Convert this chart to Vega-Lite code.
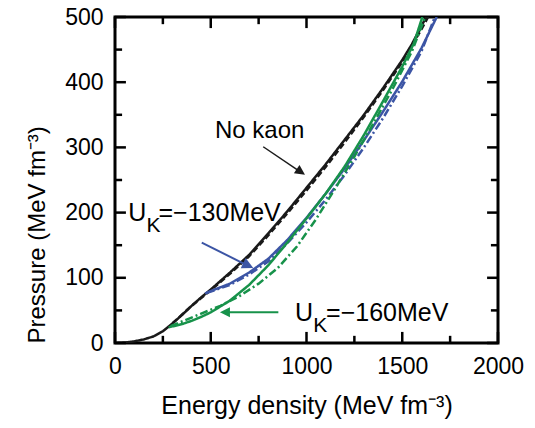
{
  "$schema": "https://vega.github.io/schema/vega-lite/v6.json",
  "width": 383,
  "height": 326,
  "autosize": {"type": "none"},
  "padding": {"left": 115, "top": 17, "right": 37, "bottom": 85},
  "background": "white",
  "config": {
    "view": {"stroke": "black", "strokeWidth": 3},
    "font": "Liberation Sans"
  },
  "datasets": {
    "curves": [
      {"series": "No kaon", "e": 0, "p": 0},
      {"series": "No kaon", "e": 50, "p": 0.7},
      {"series": "No kaon", "e": 100, "p": 2.5},
      {"series": "No kaon", "e": 150, "p": 5.5},
      {"series": "No kaon", "e": 200, "p": 10},
      {"series": "No kaon", "e": 250, "p": 18},
      {"series": "No kaon", "e": 300, "p": 30},
      {"series": "No kaon", "e": 350, "p": 43},
      {"series": "No kaon", "e": 400, "p": 57},
      {"series": "No kaon", "e": 450, "p": 70},
      {"series": "No kaon", "e": 500, "p": 82},
      {"series": "No kaon", "e": 600, "p": 108},
      {"series": "No kaon", "e": 700, "p": 135},
      {"series": "No kaon", "e": 800, "p": 168},
      {"series": "No kaon", "e": 900, "p": 202},
      {"series": "No kaon", "e": 1000, "p": 238},
      {"series": "No kaon", "e": 1100, "p": 274},
      {"series": "No kaon", "e": 1200, "p": 312},
      {"series": "No kaon", "e": 1300, "p": 350},
      {"series": "No kaon", "e": 1400, "p": 391},
      {"series": "No kaon", "e": 1500, "p": 434},
      {"series": "No kaon", "e": 1550, "p": 458},
      {"series": "No kaon", "e": 1600, "p": 486},
      {"series": "No kaon", "e": 1625, "p": 500},
      {"series": "No kaon (dashed)", "e": 300, "p": 30},
      {"series": "No kaon (dashed)", "e": 400, "p": 57},
      {"series": "No kaon (dashed)", "e": 500, "p": 81},
      {"series": "No kaon (dashed)", "e": 600, "p": 106},
      {"series": "No kaon (dashed)", "e": 700, "p": 133},
      {"series": "No kaon (dashed)", "e": 800, "p": 165},
      {"series": "No kaon (dashed)", "e": 900, "p": 199},
      {"series": "No kaon (dashed)", "e": 1000, "p": 234},
      {"series": "No kaon (dashed)", "e": 1100, "p": 270},
      {"series": "No kaon (dashed)", "e": 1200, "p": 308},
      {"series": "No kaon (dashed)", "e": 1300, "p": 347},
      {"series": "No kaon (dashed)", "e": 1400, "p": 388},
      {"series": "No kaon (dashed)", "e": 1500, "p": 431},
      {"series": "No kaon (dashed)", "e": 1600, "p": 481},
      {"series": "No kaon (dashed)", "e": 1635, "p": 500},
      {"series": "UK=-130MeV", "e": 470, "p": 76},
      {"series": "UK=-130MeV", "e": 520, "p": 82},
      {"series": "UK=-130MeV", "e": 600, "p": 91},
      {"series": "UK=-130MeV", "e": 700, "p": 108},
      {"series": "UK=-130MeV", "e": 800, "p": 129},
      {"series": "UK=-130MeV", "e": 900, "p": 158},
      {"series": "UK=-130MeV", "e": 1000, "p": 192},
      {"series": "UK=-130MeV", "e": 1100, "p": 229},
      {"series": "UK=-130MeV", "e": 1200, "p": 268},
      {"series": "UK=-130MeV", "e": 1300, "p": 311},
      {"series": "UK=-130MeV", "e": 1400, "p": 355},
      {"series": "UK=-130MeV", "e": 1500, "p": 401},
      {"series": "UK=-130MeV", "e": 1600, "p": 452},
      {"series": "UK=-130MeV", "e": 1680, "p": 500},
      {"series": "UK=-130MeV (dash-dot)", "e": 480, "p": 77},
      {"series": "UK=-130MeV (dash-dot)", "e": 600, "p": 89},
      {"series": "UK=-130MeV (dash-dot)", "e": 700, "p": 105},
      {"series": "UK=-130MeV (dash-dot)", "e": 800, "p": 125},
      {"series": "UK=-130MeV (dash-dot)", "e": 900, "p": 153},
      {"series": "UK=-130MeV (dash-dot)", "e": 1000, "p": 185},
      {"series": "UK=-130MeV (dash-dot)", "e": 1100, "p": 220},
      {"series": "UK=-130MeV (dash-dot)", "e": 1200, "p": 258},
      {"series": "UK=-130MeV (dash-dot)", "e": 1300, "p": 300},
      {"series": "UK=-130MeV (dash-dot)", "e": 1400, "p": 345},
      {"series": "UK=-130MeV (dash-dot)", "e": 1500, "p": 394},
      {"series": "UK=-130MeV (dash-dot)", "e": 1600, "p": 447},
      {"series": "UK=-130MeV (dash-dot)", "e": 1670, "p": 500},
      {"series": "UK=-160MeV", "e": 280, "p": 24},
      {"series": "UK=-160MeV", "e": 350, "p": 29},
      {"series": "UK=-160MeV", "e": 400, "p": 34},
      {"series": "UK=-160MeV", "e": 450, "p": 40},
      {"series": "UK=-160MeV", "e": 500, "p": 47},
      {"series": "UK=-160MeV", "e": 600, "p": 65},
      {"series": "UK=-160MeV", "e": 700, "p": 89},
      {"series": "UK=-160MeV", "e": 800, "p": 119},
      {"series": "UK=-160MeV", "e": 900, "p": 154},
      {"series": "UK=-160MeV", "e": 1000, "p": 191},
      {"series": "UK=-160MeV", "e": 1100, "p": 229},
      {"series": "UK=-160MeV", "e": 1200, "p": 271},
      {"series": "UK=-160MeV", "e": 1300, "p": 319},
      {"series": "UK=-160MeV", "e": 1400, "p": 371},
      {"series": "UK=-160MeV", "e": 1500, "p": 424},
      {"series": "UK=-160MeV", "e": 1560, "p": 459},
      {"series": "UK=-160MeV", "e": 1605, "p": 500},
      {"series": "UK=-160MeV (dash-dot)", "e": 290, "p": 26},
      {"series": "UK=-160MeV (dash-dot)", "e": 350, "p": 33},
      {"series": "UK=-160MeV (dash-dot)", "e": 450, "p": 45},
      {"series": "UK=-160MeV (dash-dot)", "e": 550, "p": 57},
      {"series": "UK=-160MeV (dash-dot)", "e": 650, "p": 72},
      {"series": "UK=-160MeV (dash-dot)", "e": 750, "p": 91},
      {"series": "UK=-160MeV (dash-dot)", "e": 850, "p": 115},
      {"series": "UK=-160MeV (dash-dot)", "e": 950, "p": 148},
      {"series": "UK=-160MeV (dash-dot)", "e": 1050, "p": 190},
      {"series": "UK=-160MeV (dash-dot)", "e": 1150, "p": 237},
      {"series": "UK=-160MeV (dash-dot)", "e": 1250, "p": 286},
      {"series": "UK=-160MeV (dash-dot)", "e": 1350, "p": 337},
      {"series": "UK=-160MeV (dash-dot)", "e": 1450, "p": 390},
      {"series": "UK=-160MeV (dash-dot)", "e": 1550, "p": 447},
      {"series": "UK=-160MeV (dash-dot)", "e": 1620, "p": 500}
    ]
  },
  "layer": [
    {
      "data": {"name": "curves"},
      "mark": {"type": "line", "clip": true, "strokeWidth": 2.5},
      "encoding": {
        "x": {
          "field": "e", "type": "quantitative",
          "scale": {"domain": [0, 2000], "nice": false, "zero": false},
          "axis": {
            "orient": "bottom",
            "values": [0, 500, 1000, 1500, 2000],
            "format": "d",
            "ticks": false, "tickSize": 0,
            "domain": false, "grid": false,
            "labelFontSize": 23, "labelColor": "black", "labelFont": "Liberation Sans",
            "labelPadding": 12, "labelFlush": false, "labelOverlap": false,
            "title": "Energy density (MeV fm⁻³)",
            "titleFontSize": 25, "titleFontWeight": "normal", "titleColor": "black",
            "titleFont": "Liberation Sans", "titlePadding": 15
          }
        },
        "y": {
          "field": "p", "type": "quantitative",
          "scale": {"domain": [0, 500], "nice": false},
          "axis": {
            "orient": "left",
            "values": [0, 100, 200, 300, 400, 500],
            "format": "d",
            "ticks": false, "tickSize": 0,
            "domain": false, "grid": false,
            "labelFontSize": 23, "labelColor": "black", "labelFont": "Liberation Sans",
            "labelPadding": 12, "labelFlush": false, "labelOverlap": false,
            "title": "Pressure (MeV fm⁻³)",
            "titleFontSize": 24, "titleFontWeight": "normal", "titleColor": "black",
            "titleFont": "Liberation Sans", "titlePadding": 15, "titleAnchor": "start"
          }
        },
        "color": {
          "field": "series", "type": "nominal", "legend": null,
          "scale": {
            "domain": ["UK=-130MeV", "UK=-130MeV (dash-dot)", "UK=-160MeV", "UK=-160MeV (dash-dot)", "No kaon (dashed)", "No kaon"],
            "range": ["#3c55a5", "#3c55a5", "#17924a", "#17924a", "#1a1a1a", "#1a1a1a"]
          }
        },
        "strokeDash": {
          "field": "series", "type": "nominal", "legend": null,
          "scale": {
            "domain": ["UK=-130MeV", "UK=-130MeV (dash-dot)", "UK=-160MeV", "UK=-160MeV (dash-dot)", "No kaon (dashed)", "No kaon"],
            "range": [[1, 0], [8, 3, 2, 3], [1, 0], [8, 3, 2, 3], [6, 3], [1, 0]]
          }
        }
      }
    },
    {
      "data": {"values": [{"v": 0}, {"v": 500}, {"v": 1000}, {"v": 1500}, {"v": 2000}]},
      "mark": {"type": "rule", "color": "black", "strokeWidth": 2.5},
      "encoding": {"x": {"field": "v", "type": "quantitative"}, "y": {"datum": 0, "type": "quantitative"}, "y2": {"datum": 17}}
    },
    {
      "data": {"values": [{"v": 250}, {"v": 750}, {"v": 1250}, {"v": 1750}]},
      "mark": {"type": "rule", "color": "black", "strokeWidth": 2.5},
      "encoding": {"x": {"field": "v", "type": "quantitative"}, "y": {"datum": 0, "type": "quantitative"}, "y2": {"datum": 11}}
    },
    {
      "data": {"values": [{"v": 0}, {"v": 500}, {"v": 1000}, {"v": 1500}, {"v": 2000}]},
      "mark": {"type": "rule", "color": "black", "strokeWidth": 2.5},
      "encoding": {"x": {"field": "v", "type": "quantitative"}, "y": {"datum": 500, "type": "quantitative"}, "y2": {"datum": 483}}
    },
    {
      "data": {"values": [{"v": 250}, {"v": 750}, {"v": 1250}, {"v": 1750}]},
      "mark": {"type": "rule", "color": "black", "strokeWidth": 2.5},
      "encoding": {"x": {"field": "v", "type": "quantitative"}, "y": {"datum": 500, "type": "quantitative"}, "y2": {"datum": 489}}
    },
    {
      "data": {"values": [{"v": 0}, {"v": 100}, {"v": 200}, {"v": 300}, {"v": 400}, {"v": 500}]},
      "mark": {"type": "rule", "color": "black", "strokeWidth": 2.5},
      "encoding": {"y": {"field": "v", "type": "quantitative"}, "x": {"datum": 0, "type": "quantitative"}, "x2": {"datum": 57}}
    },
    {
      "data": {"values": [{"v": 50}, {"v": 150}, {"v": 250}, {"v": 350}, {"v": 450}]},
      "mark": {"type": "rule", "color": "black", "strokeWidth": 2.5},
      "encoding": {"y": {"field": "v", "type": "quantitative"}, "x": {"datum": 0, "type": "quantitative"}, "x2": {"datum": 37}}
    },
    {
      "data": {"values": [{"v": 0}, {"v": 100}, {"v": 200}, {"v": 300}, {"v": 400}, {"v": 500}]},
      "mark": {"type": "rule", "color": "black", "strokeWidth": 2.5},
      "encoding": {"y": {"field": "v", "type": "quantitative"}, "x": {"datum": 2000, "type": "quantitative"}, "x2": {"datum": 1943}}
    },
    {
      "data": {"values": [{"v": 50}, {"v": 150}, {"v": 250}, {"v": 350}, {"v": 450}]},
      "mark": {"type": "rule", "color": "black", "strokeWidth": 2.5},
      "encoding": {"y": {"field": "v", "type": "quantitative"}, "x": {"datum": 2000, "type": "quantitative"}, "x2": {"datum": 1963}}
    },
    {
      "data": {"values": [{}]},
      "mark": {"type": "text", "text": "No kaon", "align": "left", "baseline": "alphabetic", "fontSize": 24, "font": "Liberation Sans", "color": "black"},
      "encoding": {"x": {"datum": 522, "type": "quantitative"}, "y": {"datum": 315, "type": "quantitative"}}
    },
    {
      "data": {"values": [{}]},
      "mark": {"type": "text", "text": "U", "align": "left", "baseline": "alphabetic", "fontSize": 25, "font": "Liberation Sans", "color": "black"},
      "encoding": {"x": {"datum": 69, "type": "quantitative"}, "y": {"datum": 187.6, "type": "quantitative"}}
    },
    {
      "data": {"values": [{}]},
      "mark": {"type": "text", "text": "K", "align": "left", "baseline": "alphabetic", "fontSize": 21, "font": "Liberation Sans", "color": "black"},
      "encoding": {"x": {"datum": 165, "type": "quantitative"}, "y": {"datum": 170.7, "type": "quantitative"}}
    },
    {
      "data": {"values": [{}]},
      "mark": {"type": "text", "text": "=−130MeV", "align": "left", "baseline": "alphabetic", "fontSize": 25, "font": "Liberation Sans", "color": "black"},
      "encoding": {"x": {"datum": 227, "type": "quantitative"}, "y": {"datum": 187.6, "type": "quantitative"}}
    },
    {
      "data": {"values": [{}]},
      "mark": {"type": "text", "text": "U", "align": "left", "baseline": "alphabetic", "fontSize": 25, "font": "Liberation Sans", "color": "black"},
      "encoding": {"x": {"datum": 940, "type": "quantitative"}, "y": {"datum": 34.2, "type": "quantitative"}}
    },
    {
      "data": {"values": [{}]},
      "mark": {"type": "text", "text": "K", "align": "left", "baseline": "alphabetic", "fontSize": 21, "font": "Liberation Sans", "color": "black"},
      "encoding": {"x": {"datum": 1035, "type": "quantitative"}, "y": {"datum": 17.3, "type": "quantitative"}}
    },
    {
      "data": {"values": [{}]},
      "mark": {"type": "text", "text": "=−160MeV", "align": "left", "baseline": "alphabetic", "fontSize": 25, "font": "Liberation Sans", "color": "black"},
      "encoding": {"x": {"datum": 1102, "type": "quantitative"}, "y": {"datum": 34.2, "type": "quantitative"}}
    },
    {
      "data": {"values": [{}]},
      "mark": {"type": "rule", "color": "#1a1a1a", "strokeWidth": 1.5},
      "encoding": {"x": {"datum": 774, "type": "quantitative"}, "y": {"datum": 301, "type": "quantitative"}, "x2": {"datum": 970}, "y2": {"datum": 262}}
    },
    {
      "data": {"values": [{}]},
      "mark": {"type": "point", "shape": "M0,0L-0.5,1L0.5,1Z", "filled": true, "opacity": 1, "color": "#1a1a1a", "size": 400, "angle": 124, "strokeWidth": 0},
      "encoding": {"x": {"datum": 992, "type": "quantitative"}, "y": {"datum": 258, "type": "quantitative"}}
    },
    {
      "data": {"values": [{}]},
      "mark": {"type": "rule", "color": "#3c55a5", "strokeWidth": 2},
      "encoding": {"x": {"datum": 453, "type": "quantitative"}, "y": {"datum": 154, "type": "quantitative"}, "x2": {"datum": 698}, "y2": {"datum": 118}}
    },
    {
      "data": {"values": [{}]},
      "mark": {"type": "point", "shape": "M0,0L-0.5,1L0.5,1Z", "filled": true, "opacity": 1, "color": "#3c55a5", "size": 500, "angle": 116, "strokeWidth": 0},
      "encoding": {"x": {"datum": 722, "type": "quantitative"}, "y": {"datum": 115, "type": "quantitative"}}
    },
    {
      "data": {"values": [{}]},
      "mark": {"type": "rule", "color": "#17924a", "strokeWidth": 2},
      "encoding": {"x": {"datum": 853, "type": "quantitative"}, "y": {"datum": 47, "type": "quantitative"}, "x2": {"datum": 574}, "y2": {"datum": 47}}
    },
    {
      "data": {"values": [{}]},
      "mark": {"type": "point", "shape": "M0,0L-0.5,1L0.5,1Z", "filled": true, "opacity": 1, "color": "#17924a", "size": 400, "angle": 270, "strokeWidth": 0},
      "encoding": {"x": {"datum": 548, "type": "quantitative"}, "y": {"datum": 47, "type": "quantitative"}}
    }
  ]
}
